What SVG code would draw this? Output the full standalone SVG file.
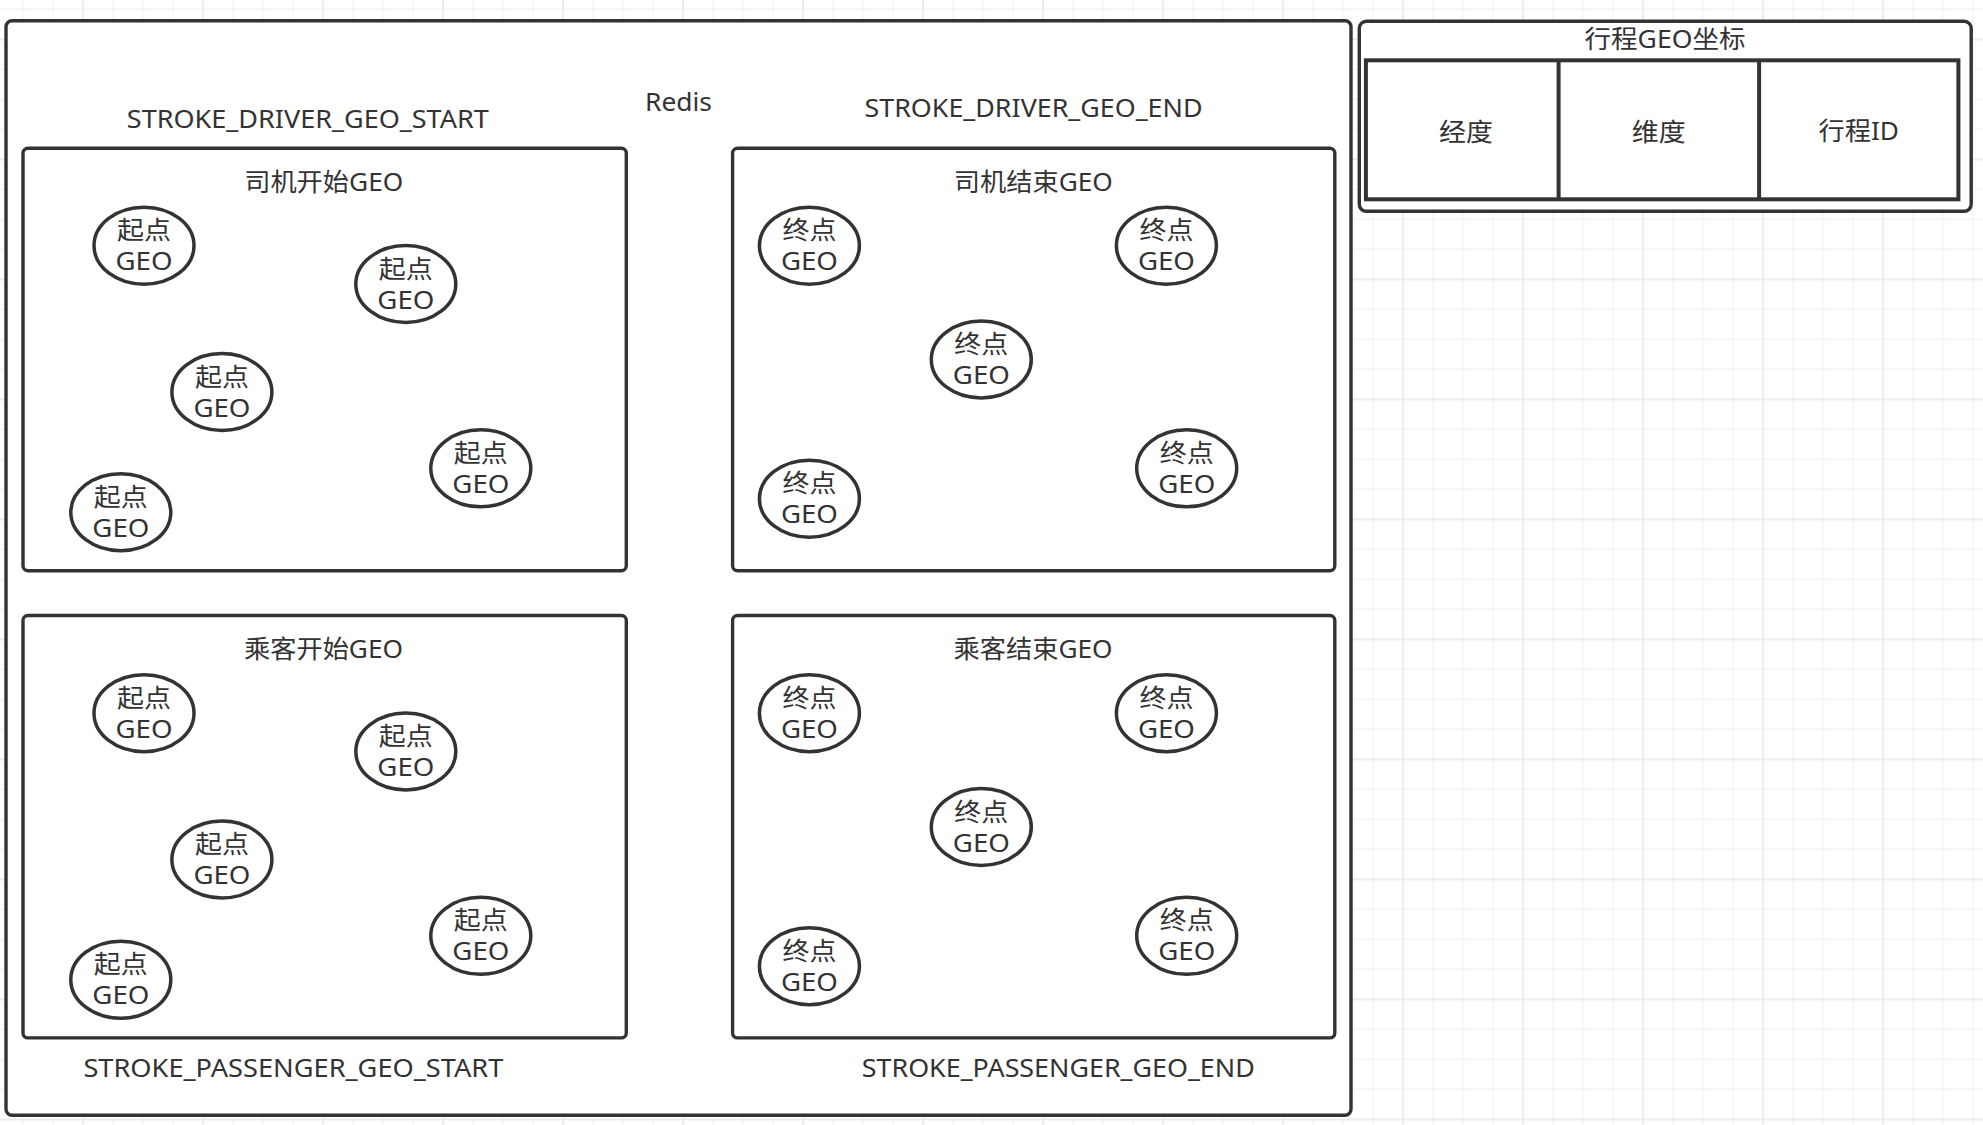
<svg xmlns="http://www.w3.org/2000/svg" width="1983" height="1125" viewBox="0 0 1983 1125">
  <defs>
    <!-- light drawing-paper grid: 30px cells, heavier line every 120px -->
    <pattern id="grid" patternUnits="userSpaceOnUse" x="82.3" y="38.6" width="120" height="120">
      <rect x="0" y="0" width="120" height="120" fill="#ffffff"/>
      <g fill="#f1f1f1">
        <rect x="30" y="0" width="1.2" height="120"/>
        <rect x="60" y="0" width="1.2" height="120"/>
        <rect x="90" y="0" width="1.2" height="120"/>
        <rect x="0" y="30" width="120" height="1.2"/>
        <rect x="0" y="60" width="120" height="1.2"/>
        <rect x="0" y="90" width="120" height="1.2"/>
      </g>
      <g fill="#e6e6e6">
        <rect x="0" y="0" width="1.5" height="120"/>
        <rect x="0" y="0" width="120" height="1.5"/>
      </g>
    </pattern>
  </defs>
  <style>
    .frame { fill: #ffffff; stroke: #333333; stroke-width: 3.4; }
    .cell { fill: #ffffff; stroke: #333333; stroke-width: 4; }
    .geo { fill: #ffffff; stroke: #333333; stroke-width: 3.5; }
    text { font-family: "Noto Sans", "Noto Sans CJK SC", sans-serif; fill: #333333; text-anchor: middle; }
    .lbl { font-size: 25.5px; }
    .ttl { font-size: 24.5px; }
    .pt { font-size: 24.5px; }
  </style>

  <rect x="0" y="0" width="1983" height="1125" fill="url(#grid)"/>

  <!-- Redis container -->
  <g id="redis">
    <rect class="frame" x="6" y="20.7" width="1345" height="1094.6" rx="6"/>
    <text class="lbl" x="678.5" y="110.7" textLength="67" lengthAdjust="spacingAndGlyphs">Redis</text>
    <text class="lbl" x="307.8" y="128" textLength="362" lengthAdjust="spacingAndGlyphs">STROKE_DRIVER_GEO_START</text>
    <text class="lbl" x="1033.5" y="116.7" textLength="338" lengthAdjust="spacingAndGlyphs">STROKE_DRIVER_GEO_END</text>
    <text class="lbl" x="293.4" y="1076.7" textLength="420" lengthAdjust="spacingAndGlyphs">STROKE_PASSENGER_GEO_START</text>
    <text class="lbl" x="1058.3" y="1076.7" textLength="393" lengthAdjust="spacingAndGlyphs">STROKE_PASSENGER_GEO_END</text>
  </g>

  <!-- driver start set -->
  <g id="driver-start">
    <rect class="frame" x="23" y="148.3" width="603.3" height="422.4" rx="5"/>
    <text class="ttl" x="323.7" y="190.7" textLength="159" lengthAdjust="spacingAndGlyphs">司机开始GEO</text>
    <g id="ds-1"><ellipse class="geo" cx="144" cy="245.7" rx="50" ry="38.5"/><text class="pt" x="144" y="239.2" textLength="54" lengthAdjust="spacingAndGlyphs">起点</text><text class="pt" x="144" y="270.2" textLength="57" lengthAdjust="spacingAndGlyphs">GEO</text></g>
    <g id="ds-2"><ellipse class="geo" cx="405.8" cy="284" rx="50" ry="38.5"/><text class="pt" x="405.8" y="277.5" textLength="54" lengthAdjust="spacingAndGlyphs">起点</text><text class="pt" x="405.8" y="308.5" textLength="57" lengthAdjust="spacingAndGlyphs">GEO</text></g>
    <g id="ds-3"><ellipse class="geo" cx="221.9" cy="392" rx="50" ry="38.5"/><text class="pt" x="221.9" y="385.5" textLength="54" lengthAdjust="spacingAndGlyphs">起点</text><text class="pt" x="221.9" y="416.5" textLength="57" lengthAdjust="spacingAndGlyphs">GEO</text></g>
    <g id="ds-4"><ellipse class="geo" cx="480.8" cy="468.3" rx="50" ry="38.5"/><text class="pt" x="480.8" y="461.8" textLength="54" lengthAdjust="spacingAndGlyphs">起点</text><text class="pt" x="480.8" y="492.8" textLength="57" lengthAdjust="spacingAndGlyphs">GEO</text></g>
    <g id="ds-5"><ellipse class="geo" cx="120.8" cy="512.2" rx="50" ry="38.5"/><text class="pt" x="120.8" y="505.7" textLength="54" lengthAdjust="spacingAndGlyphs">起点</text><text class="pt" x="120.8" y="536.7" textLength="57" lengthAdjust="spacingAndGlyphs">GEO</text></g>
  </g>

  <!-- driver end set -->
  <g id="driver-end">
    <rect class="frame" x="732.6" y="148.3" width="602.2" height="422.4" rx="5"/>
    <text class="ttl" x="1033.3" y="190.7" textLength="159" lengthAdjust="spacingAndGlyphs">司机结束GEO</text>
    <g id="de-1"><ellipse class="geo" cx="809.4" cy="245.7" rx="50" ry="38.5"/><text class="pt" x="809.4" y="239.2" textLength="54" lengthAdjust="spacingAndGlyphs">终点</text><text class="pt" x="809.4" y="270.2" textLength="57" lengthAdjust="spacingAndGlyphs">GEO</text></g>
    <g id="de-2"><ellipse class="geo" cx="1166.4" cy="245.7" rx="50" ry="38.5"/><text class="pt" x="1166.4" y="239.2" textLength="54" lengthAdjust="spacingAndGlyphs">终点</text><text class="pt" x="1166.4" y="270.2" textLength="57" lengthAdjust="spacingAndGlyphs">GEO</text></g>
    <g id="de-3"><ellipse class="geo" cx="981.3" cy="359.5" rx="50" ry="38.5"/><text class="pt" x="981.3" y="353" textLength="54" lengthAdjust="spacingAndGlyphs">终点</text><text class="pt" x="981.3" y="384" textLength="57" lengthAdjust="spacingAndGlyphs">GEO</text></g>
    <g id="de-4"><ellipse class="geo" cx="809.4" cy="498.7" rx="50" ry="38.5"/><text class="pt" x="809.4" y="492.2" textLength="54" lengthAdjust="spacingAndGlyphs">终点</text><text class="pt" x="809.4" y="523.2" textLength="57" lengthAdjust="spacingAndGlyphs">GEO</text></g>
    <g id="de-5"><ellipse class="geo" cx="1186.7" cy="468.3" rx="50" ry="38.5"/><text class="pt" x="1186.7" y="461.8" textLength="54" lengthAdjust="spacingAndGlyphs">终点</text><text class="pt" x="1186.7" y="492.8" textLength="57" lengthAdjust="spacingAndGlyphs">GEO</text></g>
  </g>

  <!-- passenger start set -->
  <g id="passenger-start">
    <rect class="frame" x="23" y="615.5" width="603.3" height="422.4" rx="5"/>
    <text class="ttl" x="323.5" y="658" textLength="159" lengthAdjust="spacingAndGlyphs">乘客开始GEO</text>
    <g id="ps-1"><ellipse class="geo" cx="144" cy="713.2" rx="50" ry="38.5"/><text class="pt" x="144" y="706.7" textLength="54" lengthAdjust="spacingAndGlyphs">起点</text><text class="pt" x="144" y="737.7" textLength="57" lengthAdjust="spacingAndGlyphs">GEO</text></g>
    <g id="ps-2"><ellipse class="geo" cx="405.8" cy="751.5" rx="50" ry="38.5"/><text class="pt" x="405.8" y="745" textLength="54" lengthAdjust="spacingAndGlyphs">起点</text><text class="pt" x="405.8" y="776" textLength="57" lengthAdjust="spacingAndGlyphs">GEO</text></g>
    <g id="ps-3"><ellipse class="geo" cx="221.9" cy="859.5" rx="50" ry="38.5"/><text class="pt" x="221.9" y="853" textLength="54" lengthAdjust="spacingAndGlyphs">起点</text><text class="pt" x="221.9" y="884" textLength="57" lengthAdjust="spacingAndGlyphs">GEO</text></g>
    <g id="ps-4"><ellipse class="geo" cx="480.8" cy="935.8" rx="50" ry="38.5"/><text class="pt" x="480.8" y="929.3" textLength="54" lengthAdjust="spacingAndGlyphs">起点</text><text class="pt" x="480.8" y="960.3" textLength="57" lengthAdjust="spacingAndGlyphs">GEO</text></g>
    <g id="ps-5"><ellipse class="geo" cx="120.8" cy="979.7" rx="50" ry="38.5"/><text class="pt" x="120.8" y="973.2" textLength="54" lengthAdjust="spacingAndGlyphs">起点</text><text class="pt" x="120.8" y="1004.2" textLength="57" lengthAdjust="spacingAndGlyphs">GEO</text></g>
  </g>

  <!-- passenger end set -->
  <g id="passenger-end">
    <rect class="frame" x="732.6" y="615.5" width="602.2" height="422.4" rx="5"/>
    <text class="ttl" x="1033.1" y="658" textLength="159" lengthAdjust="spacingAndGlyphs">乘客结束GEO</text>
    <g id="pe-1"><ellipse class="geo" cx="809.4" cy="713.2" rx="50" ry="38.5"/><text class="pt" x="809.4" y="706.7" textLength="54" lengthAdjust="spacingAndGlyphs">终点</text><text class="pt" x="809.4" y="737.7" textLength="57" lengthAdjust="spacingAndGlyphs">GEO</text></g>
    <g id="pe-2"><ellipse class="geo" cx="1166.4" cy="713.2" rx="50" ry="38.5"/><text class="pt" x="1166.4" y="706.7" textLength="54" lengthAdjust="spacingAndGlyphs">终点</text><text class="pt" x="1166.4" y="737.7" textLength="57" lengthAdjust="spacingAndGlyphs">GEO</text></g>
    <g id="pe-3"><ellipse class="geo" cx="981.3" cy="827" rx="50" ry="38.5"/><text class="pt" x="981.3" y="820.5" textLength="54" lengthAdjust="spacingAndGlyphs">终点</text><text class="pt" x="981.3" y="851.5" textLength="57" lengthAdjust="spacingAndGlyphs">GEO</text></g>
    <g id="pe-4"><ellipse class="geo" cx="809.4" cy="966.2" rx="50" ry="38.5"/><text class="pt" x="809.4" y="959.7" textLength="54" lengthAdjust="spacingAndGlyphs">终点</text><text class="pt" x="809.4" y="990.7" textLength="57" lengthAdjust="spacingAndGlyphs">GEO</text></g>
    <g id="pe-5"><ellipse class="geo" cx="1186.7" cy="935.8" rx="50" ry="38.5"/><text class="pt" x="1186.7" y="929.3" textLength="54" lengthAdjust="spacingAndGlyphs">终点</text><text class="pt" x="1186.7" y="960.3" textLength="57" lengthAdjust="spacingAndGlyphs">GEO</text></g>
  </g>

  <!-- trip GEO record layout -->
  <g id="trip-geo">
    <rect class="frame" x="1359.3" y="21.3" width="611.9" height="190" rx="7"/>
    <text class="ttl" x="1665" y="47.5" textLength="161" lengthAdjust="spacingAndGlyphs">行程GEO坐标</text>
    <rect class="cell" x="1365.9" y="60.3" width="592.5" height="139"/>
    <line class="cell" x1="1558.6" y1="60.3" x2="1558.6" y2="199.3"/>
    <line class="cell" x1="1759.1" y1="60.3" x2="1759.1" y2="199.3"/>
    <text class="lbl" x="1466" y="140.5" textLength="54" lengthAdjust="spacingAndGlyphs">经度</text>
    <text class="lbl" x="1658.8" y="140.5" textLength="54" lengthAdjust="spacingAndGlyphs">维度</text>
    <text class="lbl" x="1858.7" y="140" textLength="80.5" lengthAdjust="spacingAndGlyphs">行程ID</text>
  </g>

  <!-- no links between the elements -->
  <g id="connectors"/>
</svg>
